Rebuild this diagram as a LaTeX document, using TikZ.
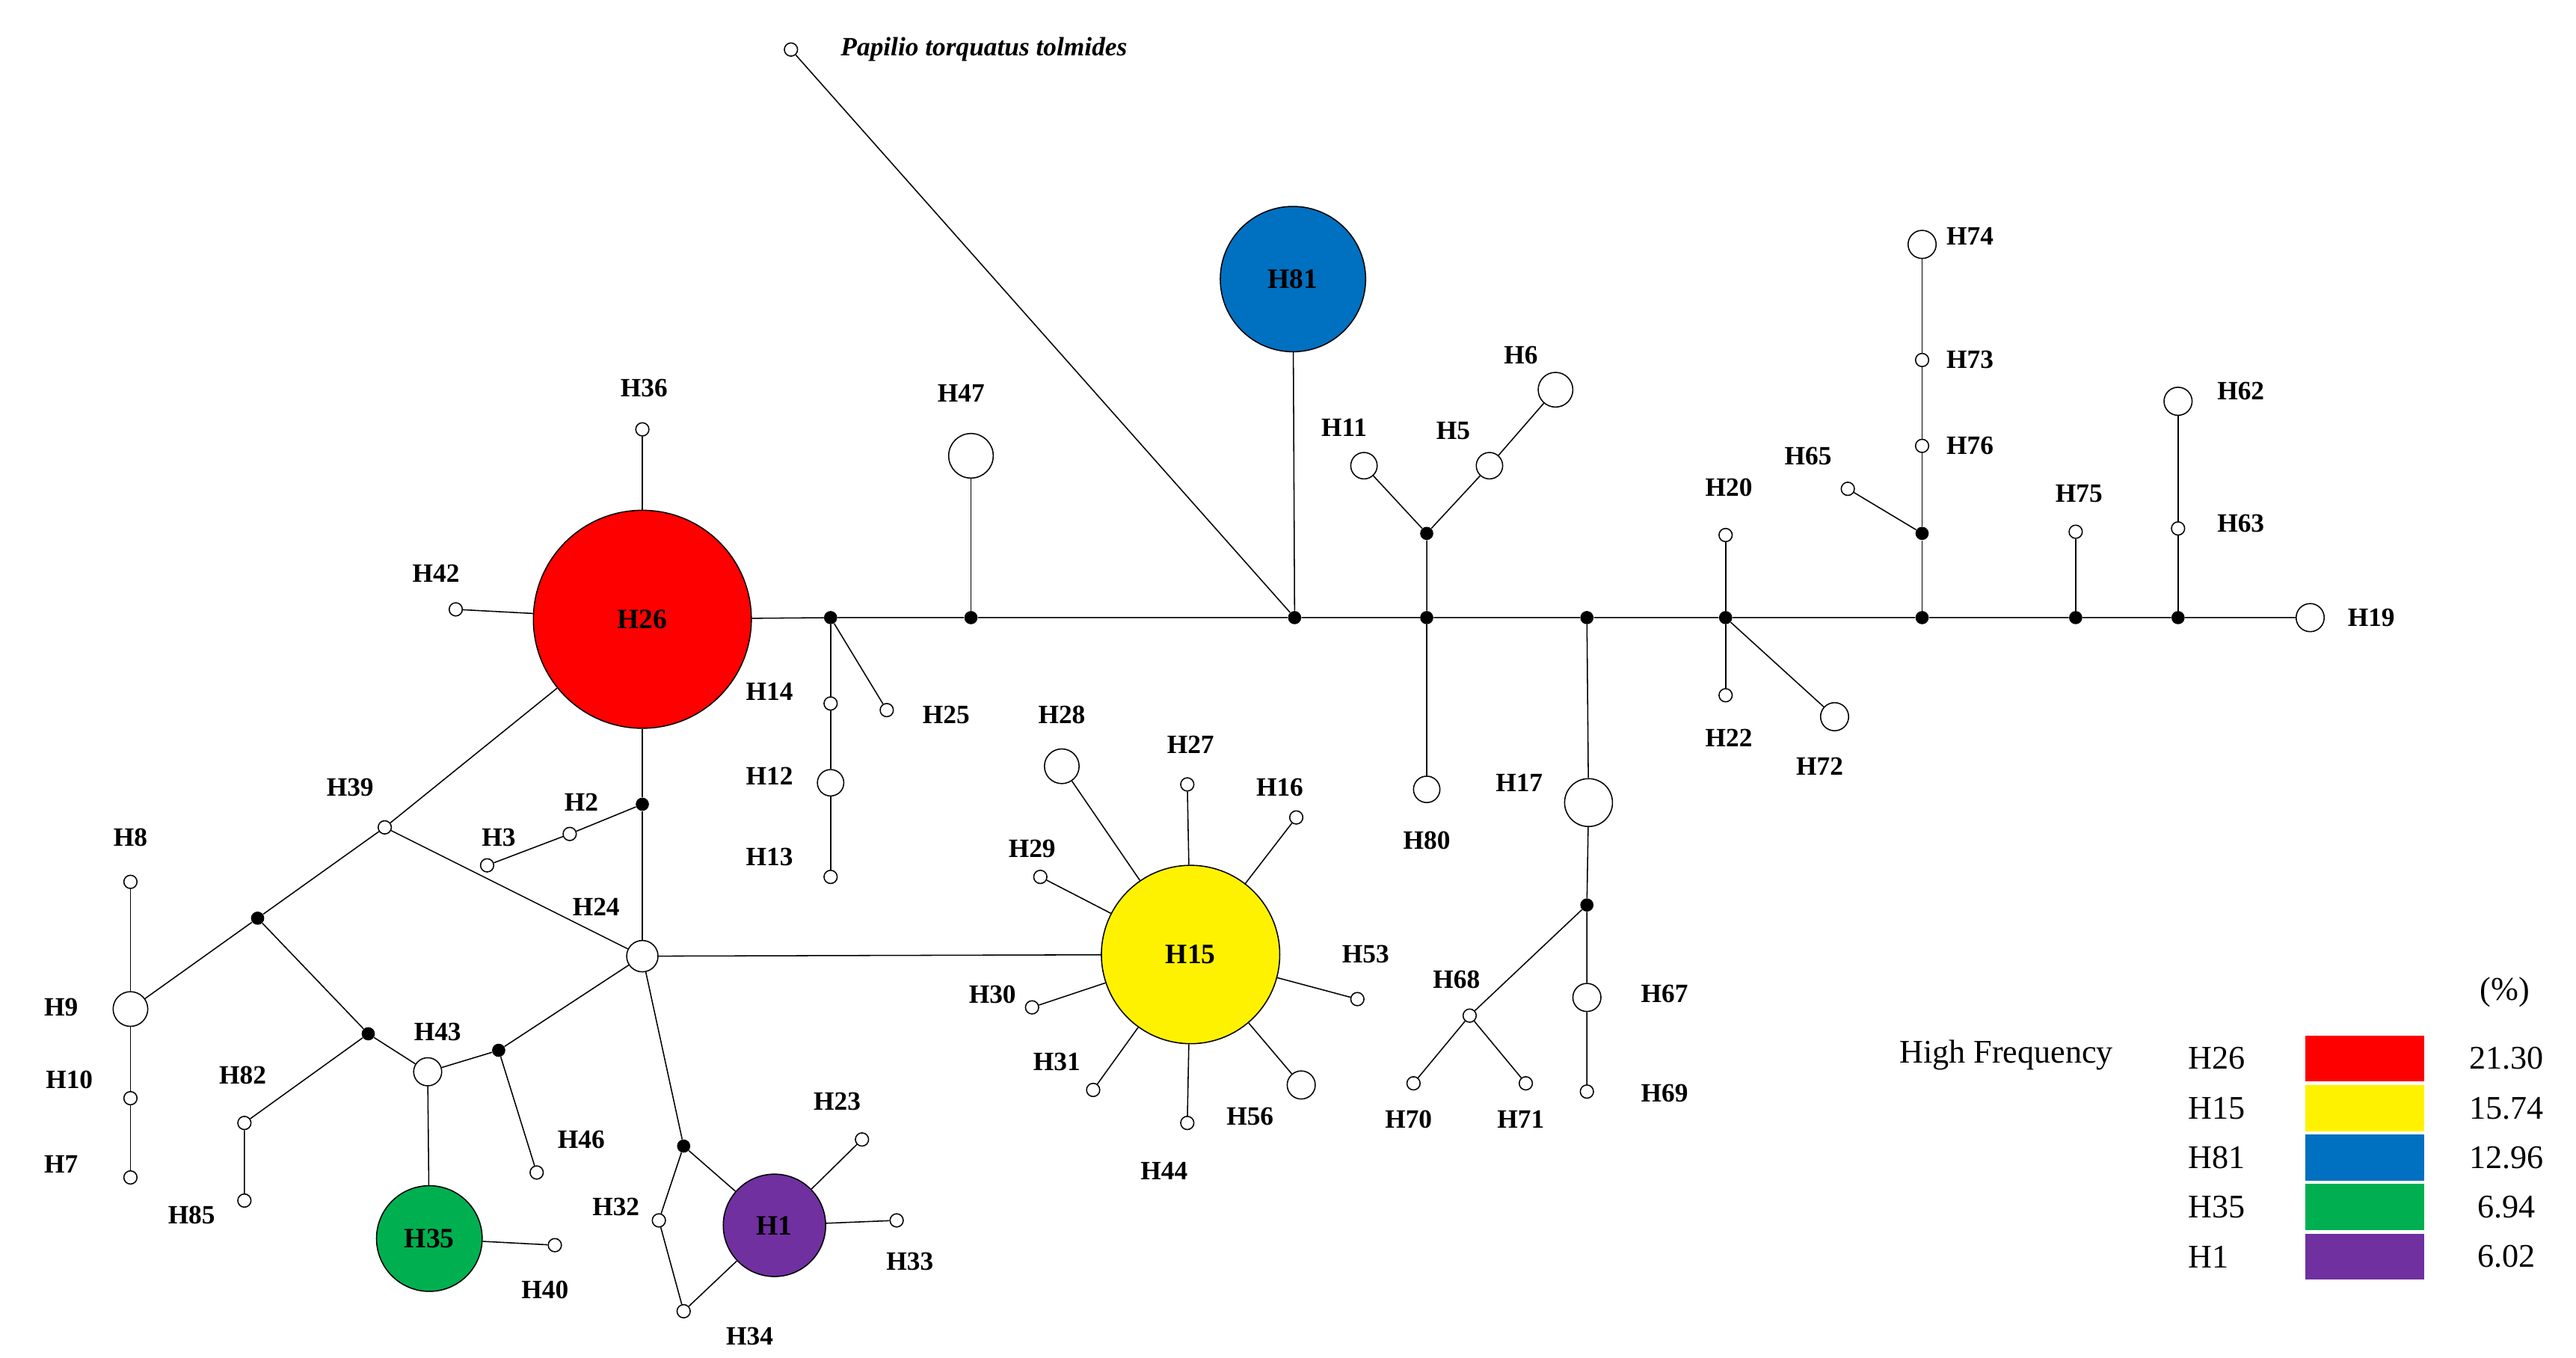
\documentclass[tikz,border=0pt]{standalone}
\usepackage{fontspec}
\setmainfont{Liberation Serif}
\tikzset{
  hap/.style={circle, draw, fill=white, inner sep=0pt, line width=0.7pt},
  sm/.style={hap, minimum size=8pt},
  md/.style={hap, minimum size=19pt},
  mv/.style={circle, fill=black, inner sep=0pt, minimum size=8pt},
  big/.style={hap, font=\fontsize{17}{17}\selectfont\bfseries},
  lab/.style={font=\fontsize{16}{16}\selectfont\bfseries, inner sep=0pt},
  leg/.style={font=\fontsize{20}{20}\selectfont, inner sep=0pt},
  link/.style={draw, line width=0.7pt}
}
\begin{document}
\begin{tikzpicture}[x=1pt, y=-1pt]
\useasboundingbox (0,0) rectangle (1560,822);
% Place nodes
\node [sm] (out) at (479,30) {};
\node [lab, anchor=west, font=\fontsize{16}{16}\selectfont\bfseries\itshape] (outl) at (509,30) {Papilio torquatus tolmides};
\node [big, fill=red, minimum size=132pt] (h26) at (389,375) {H26};
\node [big, fill=yellow, minimum size=108pt] (h15) at (721,578) {H15};
\node [big, fill={rgb,255:red,0;green,112;blue,192}, minimum size=88pt] (h81) at (783,169) {H81};
\node [big, fill={rgb,255:red,0;green,176;blue,80}, minimum size=64pt] (h35) at (260,750) {H35};
\node [big, fill={rgb,255:red,112;green,48;blue,160}, minimum size=62pt] (h1) at (469,742) {H1};
% median vectors
\node [mv] (j1) at (503,374) {};
\node [mv] (j2) at (588,374) {};
\node [mv] (j3) at (784,374) {};
\node [mv] (j4) at (864,374) {};
\node [mv] (j5) at (864,323) {};
\node [mv] (j6) at (961,374) {};
\node [mv] (j7) at (961,548) {};
\node [mv] (j8) at (1045,374) {};
\node [mv] (j9) at (1164,374) {};
\node [mv] (j10) at (1164,323) {};
\node [mv] (j11) at (1257,374) {};
\node [mv] (j12) at (1319,374) {};
\node [mv] (j13) at (389,487) {};
\node [mv] (j14) at (156,556) {};
\node [mv] (j15) at (223,626) {};
\node [mv] (j16) at (302,636) {};
\node [mv] (j17) at (414,694) {};
% haplotypes
\node [sm] (h36) at (389,260) {};
\node [sm] (h42) at (276,369) {};
\node [sm] (h14) at (503,426) {};
\node [md, minimum size=16pt] (h12) at (503,474) {};
\node [sm] (h13) at (503,531) {};
\node [sm] (h25) at (537,430) {};
\node [md, minimum size=27pt] (h47) at (588,276) {};
\node [md, minimum size=16pt] (h11) at (826,282) {};
\node [md, minimum size=16pt] (h5) at (902,282) {};
\node [md, minimum size=21pt] (h6) at (942,236) {};
\node [md, minimum size=16pt] (h80) at (864,478) {};
\node [md, minimum size=29pt] (h17) at (962,486) {};
\node [md, minimum size=17pt] (h67) at (961,604) {};
\node [sm] (h69) at (961,661) {};
\node [sm] (h68) at (890,615) {};
\node [sm] (h70) at (856,656) {};
\node [sm] (h71) at (924,656) {};
\node [sm] (h20) at (1045,324) {};
\node [sm] (h22) at (1045,421) {};
\node [md, minimum size=17pt] (h72) at (1111,434) {};
\node [sm] (h65) at (1119,296) {};
\node [sm] (h76) at (1164,270) {};
\node [sm] (h73) at (1164,218) {};
\node [md, minimum size=17pt] (h74) at (1164,148) {};
\node [sm] (h75) at (1257,322) {};
\node [sm] (h63) at (1319,320) {};
\node [md, minimum size=17pt] (h62) at (1319,243) {};
\node [md, minimum size=17pt] (h19) at (1399,374) {};
\node [sm] (h2) at (345,505) {};
\node [sm] (h3) at (295,524) {};
\node [md] (h24) at (389,579) {};
\node [sm] (h39) at (233,501) {};
\node [md, minimum size=21pt] (h9) at (79,611) {};
\node [sm] (h8) at (79,534) {};
\node [sm] (h10) at (79,665) {};
\node [sm] (h7) at (79,713) {};
\node [sm] (h82) at (148,680) {};
\node [sm] (h85) at (148,727) {};
\node [md, minimum size=17pt] (h43) at (259,649) {};
\node [sm] (h40) at (336,754) {};
\node [sm] (h46) at (325,710) {};
\node [sm] (h32) at (399,739) {};
\node [sm] (h34) at (414,794) {};
\node [sm] (h23) at (522,690) {};
\node [sm] (h33) at (543,739) {};
\node [md, minimum size=21pt] (h28) at (643,464) {};
\node [sm] (h27) at (719,475) {};
\node [sm] (h16) at (785,495) {};
\node [sm] (h29) at (630,531) {};
\node [sm] (h53) at (822,605) {};
\node [sm] (h30) at (625,610) {};
\node [sm] (h31) at (662,660) {};
\node [sm] (h44) at (719,680) {};
\node [md, minimum size=17pt] (h56) at (788,657) {};
% Labels
\node [lab] (l36) at (390,235) {H36};
\node [lab] (l42) at (264,347) {H42};
\node [lab] (l14) at (466,419) {H14};
\node [lab] (l12) at (466,470) {H12};
\node [lab] (l13) at (466,519) {H13};
\node [lab] (l25) at (573,433) {H25};
\node [lab] (l47) at (582,238) {H47};
\node [lab] (l11) at (814,259) {H11};
\node [lab] (l5) at (880,261) {H5};
\node [lab] (l6) at (921,215) {H6};
\node [lab] (l80) at (864,509) {H80};
\node [lab] (l17) at (920,474) {H17};
\node [lab] (l67) at (1008,602) {H67};
\node [lab] (l69) at (1008,662) {H69};
\node [lab] (l68) at (882,593) {H68};
\node [lab] (l70) at (853,678) {H70};
\node [lab] (l71) at (921,678) {H71};
\node [lab] (l20) at (1047,295) {H20};
\node [lab] (l22) at (1047,447) {H22};
\node [lab] (l72) at (1102,464) {H72};
\node [lab] (l65) at (1095,276) {H65};
\node [lab] (l76) at (1193,270) {H76};
\node [lab] (l73) at (1193,218) {H73};
\node [lab] (l74) at (1193,143) {H74};
\node [lab] (l75) at (1259,299) {H75};
\node [lab] (l63) at (1357,317) {H63};
\node [lab] (l62) at (1357,237) {H62};
\node [lab] (l19) at (1436,374) {H19};
\node [lab] (l2) at (352,486) {H2};
\node [lab] (l3) at (302,507) {H3};
\node [lab] (l24) at (361,549) {H24};
\node [lab] (l39) at (212,477) {H39};
\node [lab] (l9) at (37,610) {H9};
\node [lab] (l8) at (79,507) {H8};
\node [lab] (l10) at (42,654) {H10};
\node [lab] (l7) at (37,705) {H7};
\node [lab] (l82) at (147,651) {H82};
\node [lab] (l85) at (116,736) {H85};
\node [lab] (l43) at (265,625) {H43};
\node [lab] (l40) at (330,781) {H40};
\node [lab] (l46) at (352,690) {H46};
\node [lab] (l32) at (373,731) {H32};
\node [lab] (l34) at (454,809) {H34};
\node [lab] (l23) at (507,667) {H23};
\node [lab] (l33) at (551,764) {H33};
\node [lab] (l28) at (643,433) {H28};
\node [lab] (l27) at (721,451) {H27};
\node [lab] (l16) at (775,477) {H16};
\node [lab] (l29) at (625,514) {H29};
\node [lab] (l53) at (827,578) {H53};
\node [lab] (l30) at (601,602) {H30};
\node [lab] (l31) at (640,643) {H31};
\node [lab] (l44) at (705,709) {H44};
\node [lab] (l56) at (757,676) {H56};
% Legend
\node [leg] (pct) at (1517,601) {(\%)};
\node [leg] (hf) at (1215,639) {High Frequency};
\foreach \n/\c/\v [count=\i] in {H26/red/21.30, H15/yellow/15.74,
  H81/{rgb,255:red,0;green,112;blue,192}/12.96,
  H35/{rgb,255:red,0;green,176;blue,80}/6.94,
  H1/{rgb,255:red,112;green,48;blue,160}/6.02}{
  \node [leg, anchor=west] (legn\i) at (1325,611+30*\i) {\n};
  \node [fill=\c, minimum width=72pt, minimum height=28pt, inner sep=0pt] (legb\i) at (1432,611+30*\i) {};
  \node [leg] (legv\i) at (1518,611+30*\i) {\v};
}
% Draw edges
\path [link] (h26) -- (j1) -- (j2) -- (j3) -- (j4) -- (j6) -- (j8) -- (j9) -- (j11) -- (j12) -- (h19);
\path [link] (out) -- (j3);
\path [link] (h81) -- (j3);
\path [link] (h26) -- (h36);
\path [link] (h26) -- (h42);
\path [link] (j1) -- (h14) -- (h12) -- (h13);
\path [link] (j1) -- (h25);
\path [link] (j2) -- (h47);
\path [link] (j4) -- (j5) -- (h11);
\path [link] (j5) -- (h5) -- (h6);
\path [link] (j4) -- (h80);
\path [link] (j6) -- (h17) -- (j7) -- (h67) -- (h69);
\path [link] (j7) -- (h68) -- (h70);
\path [link] (h68) -- (h71);
\path [link] (j8) -- (h20);
\path [link] (j8) -- (h22);
\path [link] (j8) -- (h72);
\path [link] (j9) -- (j10) -- (h76) -- (h73) -- (h74);
\path [link] (j10) -- (h65);
\path [link] (j11) -- (h75);
\path [link] (j12) -- (h63) -- (h62);
\path [link] (h26) -- (j13) -- (h24);
\path [link] (j13) -- (h2) -- (h3);
\path [link] (h26) -- (h39) -- (h24);
\path [link] (h39) -- (j14) -- (h9);
\path [link] (h8) -- (h9) -- (h10) -- (h7);
\path [link] (j14) -- (j15) -- (h43);
\path [link] (j15) -- (h82) -- (h85);
\path [link] (h43) -- (h35) -- (h40);
\path [link] (h24) -- (j16) -- (h43);
\path [link] (j16) -- (h46);
\path [link] (h24) -- (j17) -- (h1);
\path [link] (j17) -- (h32) -- (h34) -- (h1);
\path [link] (h1) -- (h23);
\path [link] (h1) -- (h33);
\path [link] (h24) -- (h15);
\foreach \s in {h28,h27,h16,h29,h53,h30,h31,h44,h56}
  \path [link] (h15) -- (\s);
\end{tikzpicture}
\end{document}
